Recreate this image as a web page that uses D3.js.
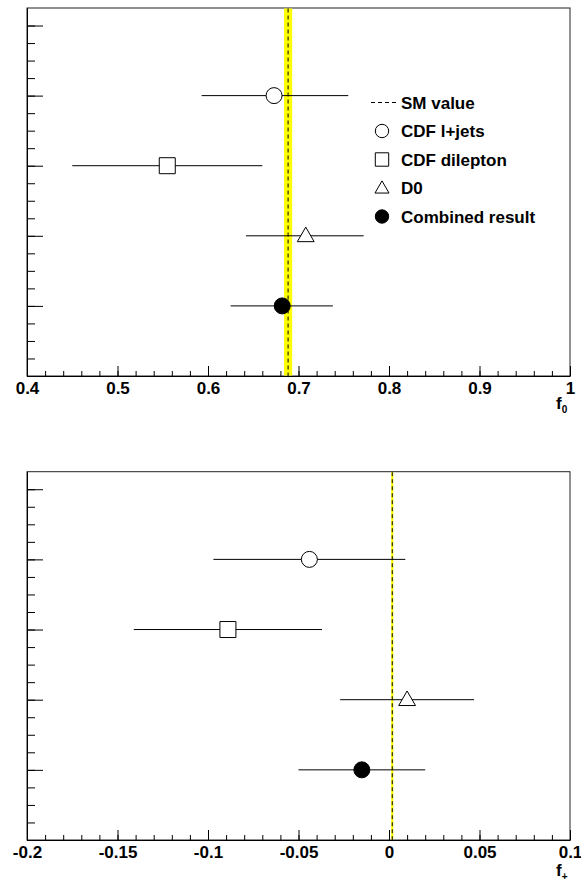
<!DOCTYPE html>
<html>
<head>
<meta charset="utf-8">
<script src="https://cdn.jsdelivr.net/npm/d3@7"></script>
<style>
  body { margin: 0; background: #fff; }
  svg { display: block; font-family: "Liberation Sans", Arial, Helvetica, sans-serif; font-weight: bold; }
</style>
</head>
<body>
<svg id="chart" width="581" height="882"></svg>
<script>
// measurements, top to bottom
var categories = ['CDF l+jets', 'CDF dilepton', 'D0', 'Combined result'];
var rows = [4, 3, 2, 1];
var symbols = ['circle', 'square', 'triangle', 'dot'];

var f0Values = [0.673, 0.555, 0.708, 0.682];
var f0Low = [0.593, 0.450, 0.642, 0.625];
var f0High = [0.755, 0.660, 0.772, 0.738];

var fpValues = [-0.044, -0.089, 0.010, -0.015];
var fpLow = [-0.097, -0.141, -0.027, -0.050];
var fpHigh = [0.009, -0.037, 0.047, 0.020];

// standard model prediction (line, band)
var smF0 = [0.6885, 0.6840, 0.6930];
var smFp = [0.0018, 0.0012, 0.0024];

var f0Ticks = [0.4, 0.5, 0.6, 0.7, 0.8, 0.9, 1.0];
var fpTicks = [-0.2, -0.15, -0.1, -0.05, 0, 0.05, 0.1];

var svg = d3.select('#chart');
var left = 27, right = 570;

function marker(g, type, x, y, big) {
  var r = big ? 8 : 6.7;
  if (type === 'circle' || type === 'dot') {
    g.append('circle').attr('cx', x).attr('cy', y).attr('r', r)
      .attr('fill', type === 'dot' ? '#000' : '#fff')
      .attr('stroke', '#000').attr('stroke-width', 1);
  } else {
    var size = type === 'square' ? (2 * r) * (2 * r) : Math.sqrt(3) / 4 * (2.1 * r) * (2.1 * r);
    g.append('path')
      .attr('transform', 'translate(' + x + ',' + (y + (type === 'triangle' ? 1 : 0)) + ')')
      .attr('d', d3.symbol().type(type === 'square' ? d3.symbolSquare : d3.symbolTriangle).size(size)())
      .attr('fill', '#fff').attr('stroke', '#000').attr('stroke-width', 1);
  }
}

function panel(top, bottom, domain, ticks, vals, lo, hi, sm, title, sub, titleY, legend) {
  var g = svg.append('g');
  var x = d3.scaleLinear().domain(domain).range([left, right]);
  var y = d3.scaleLinear().domain([0, 5.25]).range([bottom, top]);

  g.append('rect').attr('x', left).attr('y', top)
    .attr('width', right - left).attr('height', bottom - top)
    .attr('fill', 'none').attr('stroke', '#222').attr('stroke-width', 1);

  // SM band and line
  g.append('rect').attr('x', x(sm[1])).attr('y', top + 0.5)
    .attr('width', x(sm[2]) - x(sm[1])).attr('height', bottom - top - 1)
    .attr('fill', '#ffff00');
  g.append('line').attr('x1', x(sm[0])).attr('x2', x(sm[0]))
    .attr('y1', top + 0.5).attr('y2', bottom)
    .attr('stroke', '#000').attr('stroke-width', 1).attr('stroke-dasharray', '4,3');

  // minor x ticks
  var step = (ticks[1] - ticks[0]) / 5;
  var minor = d3.range(0, 31).map(function (i) { return domain[0] + i * step; });
  g.append('g').attr('transform', 'translate(0,' + bottom + ')')
    .call(d3.axisBottom(x).tickValues(minor).tickSize(-5).tickSizeOuter(0).tickFormat(''))
    .call(function (a) { a.select('.domain').remove(); });

  var ax = g.append('g').attr('transform', 'translate(0,' + bottom + ')')
    .call(d3.axisBottom(x).tickValues(ticks).tickSize(-10).tickSizeOuter(0).tickPadding(6)
      .tickFormat(function (d) { return String(+d.toFixed(2)); }));
  ax.selectAll('text').style('font-size', '17px').style('font-family', null).attr('fill', '#000');
  ax.select('.domain').attr('stroke', '#000');

  // y ticks (no labels)
  g.append('g').attr('transform', 'translate(' + left + ',0)')
    .call(d3.axisLeft(y).tickValues(d3.range(0, 21).map(function (i) { return i * 0.25; }))
      .tickSize(-8).tickSizeOuter(0).tickFormat(''));
  g.append('g').attr('transform', 'translate(' + left + ',0)')
    .call(d3.axisLeft(y).tickValues([0, 1, 2, 3, 4, 5]).tickSize(-16).tickSizeOuter(0).tickFormat(''))
    .select('.domain').attr('stroke', '#000');

  // error bars and markers
  rows.forEach(function (r, i) {
    g.append('line').attr('x1', x(lo[i])).attr('x2', x(hi[i]))
      .attr('y1', y(r)).attr('y2', y(r)).attr('stroke', '#000').attr('stroke-width', 1);
    marker(g, symbols[i], x(vals[i]), y(r), true);
  });

  // axis title
  var t = g.append('text').attr('x', 556).attr('y', titleY).style('font-size', '17px');
  t.append('tspan').text(title);
  t.append('tspan').attr('dy', 4).style('font-size', '10px').text(sub);

  if (legend) {
    var lg = g.append('g');
    var ly = [102.5, 131, 159.5, 188, 216.5];
    lg.append('line').attr('x1', 371).attr('x2', 398).attr('y1', ly[0]).attr('y2', ly[0])
      .attr('stroke', '#000').attr('stroke-dasharray', '4,3');
    lg.append('text').attr('x', 401).attr('y', ly[0] + 6).style('font-size', '17px').text('SM value');
    categories.forEach(function (c, i) {
      marker(lg, symbols[i], 382, ly[i + 1], false);
      lg.append('text').attr('x', 401).attr('y', ly[i + 1] + 6).style('font-size', '17px').text(c);
    });
  }
}

panel(8, 376, [0.4, 1.0], f0Ticks, f0Values, f0Low, f0High, smF0, 'f', '0', 409, true);
panel(471.7, 840, [-0.2, 0.1], fpTicks, fpValues, fpLow, fpHigh, smFp, 'f', '+', 876, false);
</script>
</body>
</html>
